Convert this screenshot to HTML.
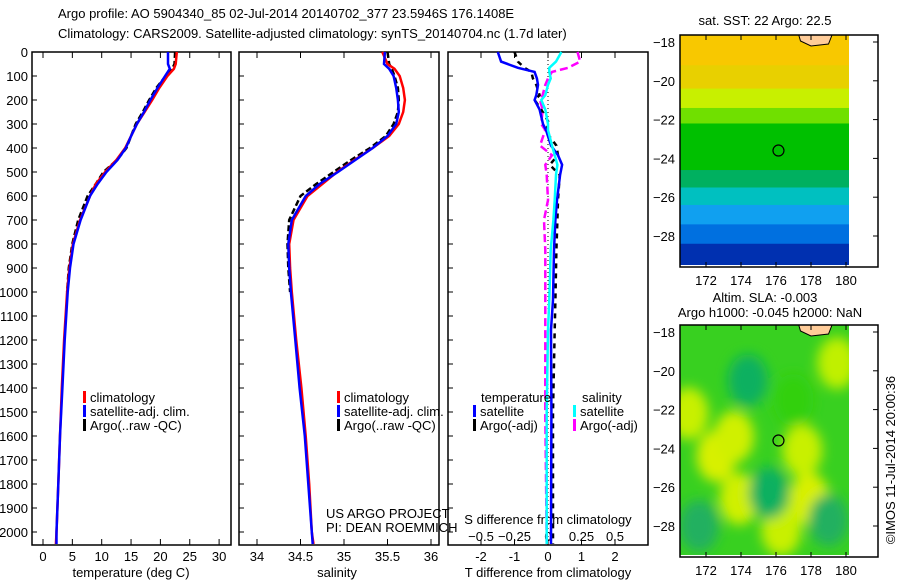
<!DOCTYPE html>
<html><head><meta charset="utf-8"><style>
body{margin:0;background:#fff}
svg text{font-family:"Liberation Sans",sans-serif;font-size:13px;fill:#000}
</style></head><body>
<svg id="s" width="900" height="580" xmlns="http://www.w3.org/2000/svg">
<defs>
<filter id="bl" x="-50%" y="-50%" width="200%" height="200%"><feGaussianBlur stdDeviation="6"/></filter>
<clipPath id="c1"><rect x="680" y="35" width="169" height="230"/></clipPath>
<clipPath id="c2"><rect x="680" y="325" width="169" height="230"/></clipPath>
</defs>
<text x="58" y="18">Argo profile: AO 5904340_85 02-Jul-2014 20140702_377 23.5946S 176.1408E</text>
<text x="58" y="38">Climatology: CARS2009. Satellite-adjusted climatology: synTS_20140704.nc (1.7d later)</text>
<g id="g"></g>
</svg>
<script>
// depth levels shared by profiles
const depths=[0,50,70,100,150,200,250,300,350,400,450,500,550,600,700,800,900,1000,1200,1400,1600,1800,2000,2050];
const tempClim=[22.8,22.6,22.3,21.2,19.8,18.6,17.3,16.0,15.0,14.0,12.5,10.6,9.0,8.0,6.3,5.1,4.5,4.1,3.6,3.2,2.9,2.6,2.3,2.2];
const tempSat=[21.3,21.3,21.6,20.8,19.5,18.3,17.2,16.0,15.0,14.1,12.7,10.8,9.3,8.0,6.4,5.2,4.6,4.2,3.7,3.3,2.9,2.6,2.3,2.3];
const tempArgo=[22.5,22.4,22.0,20.9,19.3,18.1,17.0,15.8,15.0,14.2,12.6,10.3,9.0,7.6,6.0,5.0,4.4,4.1];
const salClim=[35.44,35.5,35.58,35.64,35.68,35.70,35.68,35.63,35.52,35.33,35.12,34.92,34.75,34.58,34.42,34.37,34.38,34.40,34.45,34.51,34.56,34.6,34.63,34.65];
const salSat=[35.47,35.46,35.52,35.57,35.60,35.62,35.63,35.60,35.50,35.33,35.13,34.93,34.72,34.56,34.40,34.36,34.37,34.39,34.44,34.49,34.55,34.59,34.63,34.64];
const salArgo=[35.5,35.52,35.55,35.58,35.62,35.63,35.62,35.57,35.48,35.30,35.08,34.88,34.68,34.50,34.37,34.35,34.36,34.38];
const diffDepths=[0,40,66,83,110,137,180,200,240,300,325,390,430,470,512,617,700,825,1033,1158,1500,2050];
const tDiffSat=[-1.5,-1.4,-0.9,-0.4,-0.33,-0.3,-0.35,-0.4,-0.25,-0.15,-0.06,0.09,0.3,0.42,0.36,0.27,0.22,0.18,0.15,0.09,0.1,0.09];
const tDiffArgo=[-1.0,-0.9,-0.7,-0.5,-0.45,-0.35,-0.25,-0.4,-0.2,0.05,-0.1,0.25,0.3,0.05,0.35,0.3,0.28,0.25,0.22,0.2,0.15,0.15];
const sDiffSat=[0.1,0.06,0.01,0.01,0.02,0.0,-0.02,-0.05,-0.02,0.0,0.0,0.03,0.05,0.07,0.06,0.05,0.04,0.02,0.01,0.0,-0.01,-0.01];
const sDiffArgo=[0.22,0.24,0.15,0.03,0.0,-0.02,-0.04,-0.06,-0.04,-0.05,-0.02,-0.06,0.03,-0.02,-0.01,0.0,-0.03,-0.02,-0.02,-0.02,-0.02,-0.01];
const depthTicks=[0,100,200,300,400,500,600,700,800,900,1000,1100,1200,1300,1400,1500,1600,1700,1800,1900,2000];
const tempTicks=[0,5,10,15,20,25,30];
const salTicks=[34,34.5,35,35.5,36];
const tDiffTicks=[-2,-1,0,1,2];
const sDiffTicks=["-0.5","-0.25","0","0.25","0.5"];
const lonTicks=[172,174,176,178,180];
const latTicks=[-18,-20,-22,-24,-26,-28];
// SST map latitude bands (lat top, color)
const sstBandTop=[-17.6,-19.2,-20.4,-21.4,-22.2,-24.6,-25.5,-26.4,-27.4,-28.4];
const sstBandColor=["#f8c800","#e8d000","#c8f000","#70e000","#00c000","#00b060","#00c0c0","#10a0f0","#0070e0","#0030b0"];
const slaBlobLon=[172.6,171.0,177.5,177.9,173.9,176.3,179.5,174.4,175.6,171.6,179.0,177.0,173.6];
const slaBlobLat=[-24.4,-22.2,-24.1,-26.6,-26.6,-28.2,-19.6,-20.5,-26.3,-28.0,-27.7,-21.5,-23.4];
const slaBlobColor=["#d8f000","#c8f000","#c8f000","#d8f000","#d0f000","#c8f000","#c0f000","#10b060","#10b060","#20b060","#20b060","#30d010","#d0f000"];
const argoLon=176.1408, argoLat=-23.5946;

const NS='http://www.w3.org/2000/svg', G=document.getElementById('g');
function el(t,a,p){const e=document.createElementNS(NS,t);for(const k in a)e.setAttribute(k,a[k]);(p||G).appendChild(e);return e;}
function txt(x,y,s,anchor,p){const e=el('text',{x:x,y:y,'text-anchor':anchor||'start'},p);e.textContent=s;return e;}
const yD=d=>52+d*0.24;
const xT=v=>43+v*5.87;
const xS=v=>257+(v-34)*87;
const xTD=v=>548+v*33.5;
const xSD=v=>548+v*134;
const xLon=l=>706+(l-172)*17.5;
const yLat1=l=>42+(-18-l)*19.4;
const yLat2=l=>332+(-18-l)*19.4;

function frame(x0,x1,name){
  const r=el('rect',{x:x0,y:52,width:x1-x0,height:493,fill:'none',stroke:'#000','stroke-width':1.5});
  
  
}
function line(xs,ds,xf,color,name,dash){
  let d='';xs.forEach((v,i)=>{d+=(i?'L':'M')+xf(v).toFixed(1)+','+yD(ds[i]).toFixed(1);});
  const p=el('path',{d:d,fill:'none',stroke:color,'stroke-width':2.5});
  if(dash)p.setAttribute('stroke-dasharray',dash);
  
  
}
frame(32,231,'temperature-panel');
frame(239,439,'salinity-panel');
frame(448,648,'difference-panel');
depthTicks.forEach(d=>{
  const t=txt(28,yD(d)+5,String(d),'end');
  
  
  [32,239,448].forEach(x0=>el('line',{x1:x0,y1:yD(d),x2:x0+5,y2:yD(d),stroke:'#000'}));
});
tempTicks.forEach(v=>{
  el('line',{x1:xT(v),y1:545,x2:xT(v),y2:539,stroke:'#000'});el('line',{x1:xT(v),y1:52,x2:xT(v),y2:58,stroke:'#000'});
  const t=txt(xT(v),561,String(v),'middle');
  
  
});
salTicks.forEach(v=>{
  el('line',{x1:xS(v),y1:545,x2:xS(v),y2:539,stroke:'#000'});el('line',{x1:xS(v),y1:52,x2:xS(v),y2:58,stroke:'#000'});
  const t=txt(xS(v),561,String(v),'middle');
  
  
});
tDiffTicks.forEach(v=>{
  el('line',{x1:xTD(v),y1:545,x2:xTD(v),y2:539,stroke:'#000'});el('line',{x1:xTD(v),y1:52,x2:xTD(v),y2:58,stroke:'#000'});
  const t=txt(xTD(v),561,String(v),'middle');
  
  
});
sDiffTicks.forEach(v=>{
  const t=txt(xSD(parseFloat(v)),541,v.replace('-','\u2212'),'middle');
  
  
});
el('line',{x1:548,y1:52,x2:548,y2:545,stroke:'#000','stroke-dasharray':'1,3'});
let a=txt(131,577,'temperature (deg C)','middle');
a=txt(337,577,'salinity','middle');
a=txt(548,577,'T difference from climatology','middle');
a=txt(548,524,'S difference from climatology','middle');
a=txt(326,518,'US ARGO PROJECT');
a=txt(326,532,'PI: DEAN ROEMMICH');

line(tempArgo,depths,xT,'#000','temp-argo-line','6,3');
line(tempClim,depths,xT,'#f00','temp-climatology-line');
line(tempSat,depths,xT,'#00f','temp-satellite-line');
line(salArgo,depths,xS,'#000','sal-argo-line','6,3');
line(salClim,depths,xS,'#f00','sal-climatology-line');
line(salSat,depths,xS,'#00f','sal-satellite-line');
line(tDiffArgo,diffDepths,xTD,'#000','tdiff-argo-line','5,5');
line(sDiffArgo,diffDepths,xSD,'#f0f','sdiff-argo-line','8,4');
line(tDiffSat,diffDepths,xTD,'#00f','tdiff-satellite-line');
line(sDiffSat,diffDepths,xSD,'#0ff','sdiff-satellite-line');

function leg(x,y,c,s,name){
  el('rect',{x:x,y:y-11,width:3,height:12,fill:c});
  const t=txt(x+7,y,s);
}
leg(83,402,'#f00','climatology','legend-climatology');
leg(83,416,'#00f','satellite-adj. clim.','legend-satellite-adj');
leg(83,430,'#000','Argo(..raw -QC)','legend-argo');
leg(337,402,'#f00','climatology','legend-climatology-2');
leg(337,416,'#00f','satellite-adj. clim.','legend-satellite-adj-2');
leg(337,430,'#000','Argo(..raw -QC)','legend-argo-2');
a=txt(481,402,'temperature');
a=txt(582,402,'salinity');
leg(473,416,'#00f','satellite','legend-t-satellite');
leg(473,430,'#000','Argo(-adj)','legend-t-argo');
leg(573,416,'#0ff','satellite','legend-s-satellite');
leg(573,430,'#f0f','Argo(-adj)','legend-s-argo');

function mapFrame(name,clip){
  const g=el('g',{'clip-path':'url(#'+clip+')'});
  
  
  return g;
}
const g1=mapFrame('sst-map','c1');
sstBandTop.forEach((lt,i)=>{
  const lb=i<sstBandTop.length-1?sstBandTop[i+1]:-30;
  const r=el('rect',{x:680,y:yLat1(lt),width:169,height:yLat1(lb)-yLat1(lt)+1,fill:sstBandColor[i]},g1);
  
  
});
const g2=mapFrame('sla-map','c2');
el('rect',{x:680,y:325,width:169,height:230,fill:'#38d020'},g2);
const gb=el('g',{filter:'url(#bl)'},g2);
slaBlobLon.forEach((lo,i)=>{
  const e=el('ellipse',{cx:xLon(lo),cy:yLat2(slaBlobLat[i]),rx:20,ry:26,fill:slaBlobColor[i]},gb);
  
  
});
[[yLat1,35,'sst'],[yLat2,325,'sla']].forEach(([yl,y0,n])=>{
  el('path',{d:`M${xLon(177.3)},${y0} L${xLon(177.4)},${y0+6} L${xLon(178)},${y0+11} L${xLon(179)},${y0+9} L${xLon(179.2)},${y0}Z`,fill:'#ffcc99',stroke:'#000','stroke-width':1});
  const b=el('rect',{x:680,y:y0,width:198,height:232,fill:'none',stroke:'#000','stroke-width':1.5});
  
  const c=el('circle',{cx:xLon(argoLon),cy:yl(argoLat),r:5.5,fill:'none',stroke:'#000','stroke-width':1.2});
  
  latTicks.forEach(l=>{
    el('line',{x1:873,y1:yl(l),x2:878,y2:yl(l),stroke:'#000'});
    const t=txt(675,yl(l)+5,String(l).replace('-','\u2212'),'end');
    
  });
  lonTicks.forEach(l=>{
    el('line',{x1:xLon(l),y1:y0,x2:xLon(l),y2:y0+5,stroke:'#000'});
    el('line',{x1:xLon(l),y1:y0+232,x2:xLon(l),y2:y0+227,stroke:'#000'});
    const t=txt(xLon(l),y0+250,String(l),'middle');
    
  });
});
a=txt(765,25,'sat. SST: 22 Argo: 22.5','middle');
a=txt(765,302,'Altim. SLA: -0.003','middle');
a=txt(770,317,'Argo h1000: -0.045 h2000: NaN','middle');
a=txt(0,0,'\u00a9IMOS 11-Jul-2014 20:00:36','middle');a.setAttribute('transform','translate(895,460) rotate(-90)');

</script>
</body></html>
